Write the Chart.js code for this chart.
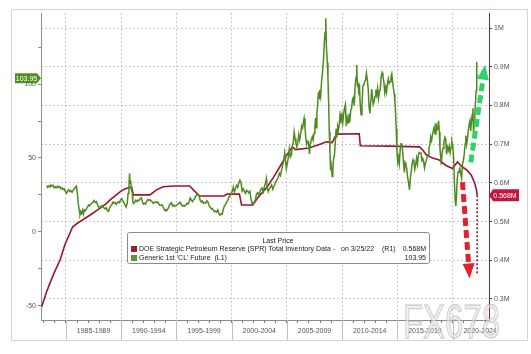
<!DOCTYPE html>
<html><head><meta charset="utf-8">
<script src="https://cdn.jsdelivr.net/npm/chart.js@4.4.1/dist/chart.umd.min.js"></script>
<style>html,body{margin:0;padding:0;background:#fff}</style>
</head><body>
<canvas id="c" width="531" height="354"></canvas>
<script>
// ---- data ----
const periodStarts = [1985,1990,1995,2000,2005,2010,2015,2020];
const periodLabels = ['1985-1989','1990-1994','1995-1999','2000-2004','2005-2009','2010-2014','2015-2019','2020-2024'];
const leftTicks = [-50,0,50,100];
const leftMinorTicks = [-25,25,75,125];
const rightTicks = [0.3,0.4,0.5,0.6,0.7,0.8,0.9,1.0];

const sprYears = [1982.8,1983.2,1983.55,1984.0,1984.46,1984.9,1985.2,1985.6,1986.0,1986.27,1986.8,1987.2,1987.7,1988.1,1988.6,1989.0,1989.5,1989.9,1990.3,1990.6,1990.95,1991.1,1992.6,1993.2,1993.8,1994.7,1996.2,1996.6,1997.1,1999.3,1999.6,2000.7,2000.9,2001.9,2002.4,2003.2,2003.8,2004.35,2004.9,2005.5,2005.8,2007.0,2008.0,2008.6,2009.1,2009.5,2011.55,2011.65,2014.3,2017.0,2017.3,2017.64,2018.2,2018.8,2019.4,2020.0,2020.44,2020.9,2021.3,2021.7,2022.0,2022.16,2022.23];
const sprValues = [0.280,0.315,0.341,0.372,0.400,0.440,0.460,0.486,0.495,0.500,0.510,0.517,0.527,0.535,0.545,0.556,0.568,0.577,0.584,0.587,0.589,0.569,0.569,0.582,0.590,0.592,0.592,0.580,0.566,0.566,0.571,0.571,0.543,0.543,0.563,0.589,0.615,0.641,0.668,0.693,0.686,0.690,0.700,0.706,0.704,0.726,0.727,0.696,0.695,0.693,0.685,0.672,0.664,0.659,0.645,0.637,0.654,0.641,0.633,0.620,0.600,0.582,0.568];

const clYears = [1983.25,1983.35,1983.45,1983.55,1983.65,1983.75,1983.85,1983.95,1984.05,1984.15,1984.25,1984.35,1984.45,1984.55,1984.65,1984.75,1984.85,1984.95,1985.05,1985.15,1985.25,1985.35,1985.45,1985.55,1985.65,1985.75,1985.85,1985.95,1986.05,1986.12,1986.2,1986.27,1986.35,1986.42,1986.5,1986.58,1986.66,1986.75,1986.85,1986.95,1987.05,1987.15,1987.25,1987.35,1987.45,1987.55,1987.65,1987.75,1987.85,1987.95,1988.05,1988.15,1988.25,1988.35,1988.45,1988.55,1988.65,1988.75,1988.85,1988.95,1989.05,1989.15,1989.25,1989.35,1989.45,1989.55,1989.65,1989.75,1989.85,1989.95,1990.05,1990.15,1990.25,1990.35,1990.45,1990.55,1990.62,1990.7,1990.76,1990.8,1990.86,1990.92,1991.0,1991.05,1991.12,1991.22,1991.32,1991.42,1991.52,1991.62,1991.72,1991.82,1991.92,1992.0,1992.1,1992.2,1992.3,1992.4,1992.5,1992.6,1992.7,1992.8,1992.9,1993.0,1993.1,1993.2,1993.3,1993.4,1993.5,1993.6,1993.7,1993.8,1993.9,1993.97,1994.05,1994.15,1994.25,1994.35,1994.45,1994.55,1994.65,1994.75,1994.85,1994.95,1995.05,1995.15,1995.25,1995.35,1995.45,1995.55,1995.65,1995.75,1995.85,1995.95,1996.05,1996.15,1996.25,1996.35,1996.45,1996.55,1996.65,1996.75,1996.85,1996.95,1997.05,1997.15,1997.25,1997.35,1997.45,1997.55,1997.65,1997.75,1997.85,1997.95,1998.05,1998.15,1998.25,1998.35,1998.45,1998.55,1998.65,1998.75,1998.85,1998.95,1999.05,1999.15,1999.25,1999.35,1999.45,1999.55,1999.65,1999.75,1999.85,1999.95,2000.05,2000.15,2000.25,2000.35,2000.45,2000.55,2000.65,2000.75,2000.85,2000.95,2001.05,2001.15,2001.25,2001.35,2001.45,2001.55,2001.65,2001.75,2001.85,2001.95,2002.05,2002.15,2002.25,2002.35,2002.45,2002.55,2002.65,2002.75,2002.85,2002.95,2003.05,2003.15,2003.22,2003.32,2003.42,2003.52,2003.62,2003.72,2003.82,2003.92,2004.02,2004.12,2004.22,2004.32,2004.42,2004.52,2004.62,2004.72,2004.8,2004.88,2004.95,2005.05,2005.15,2005.22,2005.32,2005.42,2005.5,2005.58,2005.66,2005.74,2005.82,2005.9,2006.0,2006.08,2006.16,2006.26,2006.34,2006.42,2006.5,2006.56,2006.64,2006.72,2006.8,2006.88,2006.96,2007.04,2007.12,2007.2,2007.3,2007.38,2007.46,2007.54,2007.6,2007.66,2007.72,2007.8,2007.86,2007.92,2007.98,2008.06,2008.14,2008.22,2008.3,2008.38,2008.46,2008.52,2008.58,2008.66,2008.72,2008.78,2008.84,2008.9,2008.96,2009.02,2009.1,2009.16,2009.22,2009.3,2009.38,2009.46,2009.52,2009.6,2009.66,2009.74,2009.82,2009.9,2009.98,2010.06,2010.14,2010.22,2010.3,2010.38,2010.46,2010.54,2010.62,2010.7,2010.78,2010.86,2010.94,2011.02,2011.1,2011.18,2011.26,2011.32,2011.38,2011.44,2011.5,2011.58,2011.64,2011.72,2011.8,2011.88,2011.96,2012.04,2012.12,2012.2,2012.28,2012.36,2012.44,2012.52,2012.6,2012.68,2012.74,2012.82,2012.9,2012.98,2013.06,2013.14,2013.22,2013.3,2013.38,2013.46,2013.54,2013.62,2013.7,2013.78,2013.86,2013.94,2014.02,2014.1,2014.18,2014.26,2014.34,2014.42,2014.5,2014.58,2014.66,2014.72,2014.78,2014.84,2014.9,2014.96,2015.04,2015.1,2015.18,2015.26,2015.34,2015.42,2015.5,2015.58,2015.64,2015.7,2015.78,2015.86,2015.94,2016.02,2016.1,2016.18,2016.26,2016.34,2016.42,2016.5,2016.58,2016.66,2016.74,2016.82,2016.9,2016.98,2017.06,2017.14,2017.22,2017.3,2017.38,2017.46,2017.54,2017.62,2017.7,2017.78,2017.86,2017.94,2018.02,2018.1,2018.18,2018.26,2018.34,2018.42,2018.5,2018.58,2018.66,2018.74,2018.8,2018.86,2018.92,2018.98,2019.06,2019.14,2019.22,2019.3,2019.38,2019.46,2019.54,2019.62,2019.7,2019.78,2019.86,2019.94,2020.02,2020.1,2020.18,2020.24,2020.3,2020.36,2020.42,2020.5,2020.58,2020.66,2020.74,2020.82,2020.9,2020.98,2021.06,2021.14,2021.2,2021.28,2021.36,2021.44,2021.52,2021.58,2021.64,2021.7,2021.78,2021.84,2021.9,2021.96,2022.02,2022.08,2022.14,2022.18,2022.2,2022.23];
const clValues = [31.5,30.2,31.2,30.4,31.8,30.9,31.5,29.9,30.5,29.8,30.9,30.1,30.6,29.2,29.8,28.6,29.2,27.2,26.2,27.8,28.6,27.3,27.9,26.8,28.2,29.2,30.2,31.0,25,19,15,11.5,13.5,12.5,14.8,12.2,15.0,14.3,15.6,16.8,18.3,17.6,18.9,19.5,20.2,21.3,19.8,20.4,18.6,16.9,17.2,16.4,17.8,17.1,16.2,15.6,16.4,14.3,13.9,16.2,17.8,18.4,20.2,19.4,20.1,18.7,19.6,20.4,19.8,21.8,22.5,21.0,19.8,18.2,16.8,19.5,26,31,39.5,33,35,28.5,27,20.5,19.2,20.0,21.4,20.6,21.6,21.2,22.4,23.1,20.4,18.9,19.5,18.8,20.6,21.9,21.4,21.8,21.0,20.4,19.3,19.9,20.5,19.8,20.2,19.1,18.0,17.9,18.4,16.9,15.2,14.3,15.0,14.6,15.9,17.8,19.2,19.8,17.6,18.2,17.3,17.8,18.3,18.8,19.6,20.0,18.4,17.5,17.9,17.4,18.2,19.4,18.8,20.4,23.0,21.6,20.5,21.8,22.3,24.4,24.8,25.6,24.2,21.4,20.2,21.0,19.4,19.9,19.6,21.2,20.2,18.0,16.9,15.6,15.9,14.8,13.6,14.2,13.5,14.9,12.4,11.3,12.4,12.0,15.4,17.8,18.5,20.3,21.4,23.6,24.2,26.0,27.4,30.3,27.0,29.4,31.5,30.2,33.0,35.0,33.4,27.6,29.2,27.4,26.1,28.2,27.6,26.4,27.5,22.3,19.3,19.8,19.6,21.8,25.5,26.6,25.3,27.0,28.9,29.7,26.9,30.2,32.8,36.2,29.5,27.3,29.5,30.4,31.8,28.9,30.6,32.4,34.2,35.5,36.8,39.6,38.2,41.8,44.8,48.6,53.5,48.2,42.8,46.6,51.5,56.2,50.8,52.4,58.6,60.4,67.5,63.2,60.1,57.5,61.2,65.8,62.3,66.8,71.5,70.2,74.2,76.8,70.4,62.9,59.2,61.4,61.0,52.8,58.8,61.9,64.4,62.2,66.8,71.2,77.0,70.4,80.2,87.4,94.6,90.2,96.0,91.8,101.5,107.3,114.2,126.5,134.8,144.5,124.8,114.6,104.2,87.6,67.5,54.1,41.8,44.6,37.5,41.2,49.4,51.3,59.8,69.7,63.8,71.2,68.5,72.3,79.6,76.8,79.4,73.8,79.7,83.8,86.2,71.6,77.0,73.9,79.8,74.4,82.2,83.4,89.5,90.8,85.5,98.8,104.5,112.8,99.5,100.4,95.2,97.6,86.2,79.2,85.6,98.8,99.2,101.6,102.5,107.5,103.0,97.1,84.6,80.1,88.4,96.5,92.2,86.4,88.2,91.8,96.2,92.6,97.2,90.4,94.8,96.4,105.2,107.6,104.8,101.6,94.2,97.8,94.4,100.2,103.5,100.4,101.6,104.3,106.8,101.2,96.4,93.4,88.6,80.5,69.8,55.1,47.3,50.4,46.2,55.8,59.6,59.4,52.6,44.8,40.2,46.8,45.2,42.4,36.6,33.2,28.4,36.5,40.6,46.2,48.8,47.2,42.4,45.6,49.8,45.8,51.6,53.7,53.2,53.8,48.4,49.6,47.8,43.2,46.4,48.2,50.6,52.2,56.7,58.4,64.2,61.8,65.6,68.4,70.7,66.2,73.6,68.8,69.8,75.2,67.6,56.5,51.0,45.4,53.8,56.6,60.2,64.0,62.9,52.5,57.4,55.2,58.1,53.6,57.1,61.2,58.3,50.1,31.7,21.5,17.5,24.8,35.5,40.4,41.0,42.9,39.3,36.2,45.7,48.5,52.6,59.5,65.1,59.3,63.6,69.6,73.5,75.2,68.3,73.3,79.4,83.6,66.2,72.8,80.1,88.2,95.7,115.0,107.6,103.95];

const lastSPR = 0.568, lastCL = 103.95;
const sprLegend = 'DOE Strategic Petroleum Reserve (SPR) Total Inventory Data -';
const clLegend = "Generic 1st 'CL' Future  (L1)";

const FONT = '"Liberation Sans", Arial, sans-serif';

const decor = {
  id: 'decor',
  beforeDraw(chart) {
    const c = chart.ctx;
    c.save();
    c.fillStyle = '#fff'; c.fillRect(0,0,chart.width,chart.height);
    c.strokeStyle = '#d4d4d4'; c.lineWidth = 1;
    c.strokeRect(11.5, 9.5, 516, 331);
    c.restore();
  },
  afterDraw(chart) {
    const c = chart.ctx, xs = chart.scales.x, yL = chart.scales.yL, yR = chart.scales.yR, a = chart.chartArea;
    c.save();
    // separators in label band
    c.strokeStyle = '#c0c0c0'; c.lineWidth = 1;
    periodStarts.forEach(p => {
      const x = Math.round(xs.getPixelForValue(p)) + 0.5;
      c.beginPath(); c.moveTo(x, a.bottom); c.lineTo(x, 340); c.stroke();
    });
    // dotted drop line
    const xe = xs.getPixelForValue(2022.23);
    c.strokeStyle = '#7a1030'; c.lineWidth = 1.5; c.setLineDash([2,2]);
    c.beginPath(); c.moveTo(xe, yR.getPixelForValue(lastSPR)); c.lineTo(xe, yR.getPixelForValue(0.365)); c.stroke();
    c.setLineDash([]);
    // arrows
    function arrow(x1,y1,x2,y2,color){
      const ang = Math.atan2(y2-y1, x2-x1), hl = 15, hw = 6;
      const bx = x2 - hl*Math.cos(ang), by = y2 - hl*Math.sin(ang);
      c.strokeStyle = color; c.lineWidth = 5; c.setLineDash([8,4]);
      c.beginPath(); c.moveTo(x1,y1); c.lineTo(bx,by); c.stroke(); c.setLineDash([]);
      c.fillStyle = color; c.beginPath();
      c.moveTo(x2,y2);
      c.lineTo(bx + hw*Math.sin(ang), by - hw*Math.cos(ang));
      c.lineTo(bx - hw*Math.sin(ang), by + hw*Math.cos(ang));
      c.closePath(); c.fill();
    }
    arrow(xs.getPixelForValue(2021.65), yL.getPixelForValue(47), xs.getPixelForValue(2022.95), yL.getPixelForValue(113), '#2fd36a');
    arrow(xs.getPixelForValue(2020.9), yR.getPixelForValue(0.602), xs.getPixelForValue(2021.55), yR.getPixelForValue(0.353), '#e4202a');
    // legend box
    c.fillStyle = '#fff'; c.strokeStyle = '#8a8a8a'; c.lineWidth = 1;
    c.beginPath(); c.roundRect(127.5, 232.5, 302, 31, 2); c.fill(); c.stroke();
    c.font = '7px ' + FONT; c.fillStyle = '#222'; c.textBaseline = 'middle';
    c.textAlign = 'center'; c.fillText('Last Price', 278, 241);
    c.textAlign = 'left';
    c.fillStyle = '#a31b2e'; c.fillRect(131, 246, 6, 6);
    c.fillStyle = '#5b9a2a'; c.fillRect(131, 255, 6, 6);
    c.fillStyle = '#222';
    c.fillText(sprLegend, 139, 249.5);
    c.fillText('on 3/25/22', 341, 249.5);
    c.fillText('(R1)', 382, 249.5);
    c.fillText(clLegend, 139, 258.5);
    c.textAlign = 'right';
    c.fillText(lastSPR + 'M', 426, 249.5);
    c.fillText(lastCL.toFixed(2), 426, 258.5);
    // tags
    const gy = yL.getPixelForValue(lastCL);
    c.fillStyle = '#4f8f1e';
    c.beginPath(); c.moveTo(15, gy-5); c.lineTo(37, gy-5); c.lineTo(41, gy); c.lineTo(37, gy+5); c.lineTo(15, gy+5); c.closePath(); c.fill();
    c.fillStyle = '#fff'; c.textAlign = 'center'; c.font = '7px ' + FONT;
    c.fillText(lastCL.toFixed(2), 26.5, gy+0.5);
    const ry = yR.getPixelForValue(lastSPR);
    c.fillStyle = '#c2173c';
    c.beginPath(); c.moveTo(a.right, ry); c.lineTo(a.right+4, ry-6); c.lineTo(519, ry-6); c.lineTo(519, ry+6); c.lineTo(a.right+4, ry+6); c.closePath(); c.fill();
    c.fillStyle = '#fff'; c.fillText(lastSPR + 'M', 505, ry+0.5);
    // watermark (fitted to ~97px wide)
    c.save();
    c.font = '48px ' + FONT; c.textAlign = 'left'; c.textBaseline = 'alphabetic';
    const ww = c.measureText('FX678').width;
    c.translate(403, 338); c.scale(97 / ww, 1);
    c.fillStyle = 'rgba(232,232,232,0.6)'; c.strokeStyle = 'rgba(170,170,170,0.5)'; c.lineWidth = 1.3;
    c.fillText('FX678', 0, 0); c.strokeText('FX678', 0, 0);
    c.restore();
    c.restore();
  }
};

const xTicks = [];
for (let y = 1983; y <= 2023; y++) xTicks.push(y);
periodStarts.forEach(p => xTicks.push(p + 2.5));
xTicks.sort((a,b)=>a-b);

new Chart(document.getElementById('c'), {
  type: 'line',
  data: {
    datasets: [
      { label: clLegend, data: clYears.map((x,i)=>({x, y: clValues[i]})), yAxisID: 'yL', borderColor: '#4e8a1d', borderWidth: 1.5, pointRadius: 0, tension: 0 },
      { label: sprLegend, data: sprYears.map((x,i)=>({x, y: sprValues[i]})), yAxisID: 'yR', borderColor: '#9a1530', borderWidth: 1.6, pointRadius: 0, tension: 0 }
    ]
  },
  options: {
    responsive: false, animation: false, devicePixelRatio: 1,
    layout: { padding: { top: 13, left: 0, right: 0, bottom: 0 } },
    plugins: { legend: { display: false }, tooltip: { enabled: false } },
    scales: {
      x: {
        type: 'linear', position: 'bottom', min: 1982.74, max: 2023.3,
        afterBuildTicks: s => { s.ticks = xTicks.map(v => ({ value: v })); },
        afterFit: s => { s.height = 34; },
        ticks: {
          autoSkip: false, maxRotation: 0, minRotation: 0, padding: 4,
          font: { family: FONT, size: 7 }, color: '#555',
          callback: v => { const i = periodStarts.indexOf(v - 2.5); return i >= 0 ? periodLabels[i] : ''; }
        },
        grid: {
          drawOnChartArea: true, tickLength: 3,
          color: ctx => (ctx.tick && ctx.tick.value % 5 === 0) ? '#c8c8c8' : 'rgba(0,0,0,0)',
          tickColor: ctx => (ctx.tick && Number.isInteger(ctx.tick.value)) ? '#777' : 'rgba(0,0,0,0)'
        },
        border: { color: '#8a8a8a', width: 1, dash: [2, 2] }
      },
      yL: {
        type: 'linear', position: 'left', min: -59.5, max: 148,
        afterBuildTicks: s => { s.ticks = leftTicks.concat(leftMinorTicks).sort((a,b)=>a-b).map(v => ({ value: v })); },
        afterFit: s => { s.width = 41; },
        ticks: { padding: 2, font: { family: FONT, size: 7 }, color: '#555',
          callback: v => leftTicks.includes(v) ? String(v) : '' },
        grid: { drawOnChartArea: false, tickLength: 3, tickColor: '#888' },
        border: { color: '#8f9680', width: 1 }
      },
      yR: {
        type: 'linear', position: 'right', min: 0.2457, max: 1.039,
        afterBuildTicks: s => { s.ticks = rightTicks.map(v => ({ value: v })); },
        afterFit: s => { s.width = 42; },
        ticks: { padding: 2, font: { family: FONT, size: 7 }, color: '#555',
          callback: v => Math.abs(v - 1) < 1e-9 ? '1M' : v.toFixed(1) + 'M' },
        grid: { drawOnChartArea: true, color: '#c8c8c8', tickLength: 3, tickColor: '#7a2a3a' },
        border: { color: '#7a2a3a', width: 1, dash: [2, 2] }
      }
    }
  },
  plugins: [decor]
});
</script>
</body></html>
